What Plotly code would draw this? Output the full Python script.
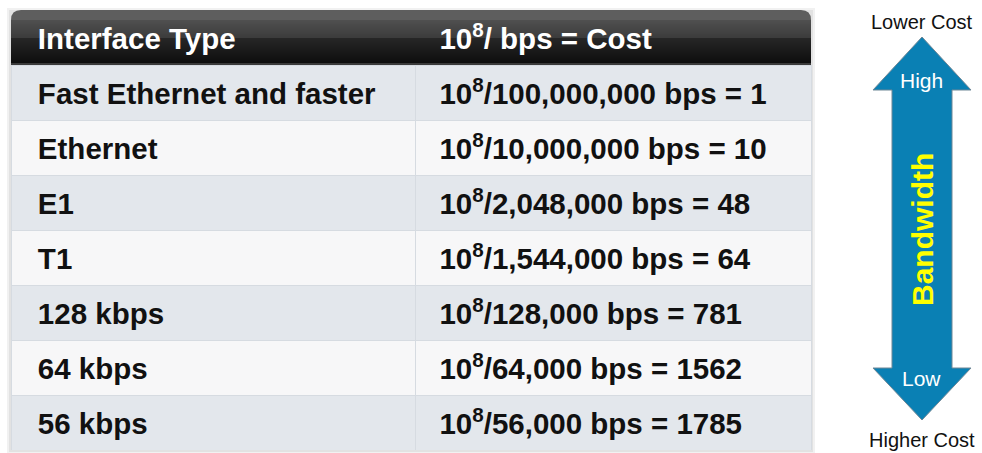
import plotly.graph_objects as go

# ---------------- data ----------------
interface_types = ["Fast Ethernet and faster", "Ethernet", "E1", "T1",
                   "128 kbps", "64 kbps", "56 kbps"]
bandwidth_bps = [100_000_000, 10_000_000, 2_048_000, 1_544_000,
                 128_000, 64_000, 56_000]
cost_values = [1, 10, 48, 64, 781, 1562, 1785]
header_labels = ["Interface Type", "10<sup>8</sup>/ bps = Cost"]
arrow_top_label = "Lower Cost"
arrow_bottom_label = "Higher Cost"
arrow_high_label = "High"
arrow_low_label = "Low"
arrow_axis_label = "Bandwidth"

# ---------------- geometry / style ----------------
W, H = 982, 453
TX0, TX1 = 11, 811
TY0, TY1 = 10, 450
COL_SPLIT = 415
HEADER_H = 55
ROW_H = 55
FONT = "Liberation Sans, Arial, sans-serif"
FS = 29.5
PAD_L = "\u00a0\u00a0\u200a"
PAD_R = "\u00a0\u00a0"
SUP_BAL = "<sup>\u00a0</sup>"   # keeps the left column on the same baseline as the right

left_col = [f"<b>{PAD_L}{t}{SUP_BAL}</b>" for t in interface_types]
right_col = [f"<b>{PAD_R}10<sup>8</sup>/{b:,} bps = {c}</b>"
             for b, c in zip(bandwidth_bps, cost_values)]
header_vals = [f"<b>{PAD_L}{header_labels[0]}{SUP_BAL}</b>", f"<b>{PAD_R}{header_labels[1]}</b>"]
row_fills = ["#e3e7ec" if i % 2 == 0 else "#f7f7f8" for i in range(len(interface_types))]

fig = go.Figure()

# arrow (cartesian trace in pixel-like axes)
ax_cx = 922
arrow_x = [ax_cx, 971, 952, 952, 971, ax_cx, 873, 892, 892, 873, ax_cx]
arrow_y = [37, 90, 90, 368, 368, 420, 368, 368, 90, 90, 37]
fig.add_trace(go.Scatter(x=arrow_x, y=arrow_y, mode="lines", fill="toself",
                         fillcolor="#0a80b4", line=dict(color="#6f8796", width=1),
                         hoverinfo="skip", showlegend=False))

fig.add_trace(go.Table(
    domain=dict(x=[TX0 / W, TX1 / W], y=[1 - TY1 / H, 1 - TY0 / H]),
    columnwidth=[COL_SPLIT - TX0, TX1 - COL_SPLIT],
    header=dict(values=header_vals, fill_color="rgba(0,0,0,0)",
                line=dict(color="rgba(0,0,0,0)", width=0), height=HEADER_H,
                align="left", font=dict(family=FONT, size=FS, color="white")),
    cells=dict(values=[left_col, right_col], fill_color=[row_fills, row_fills],
               line=dict(color="#d6dbe1", width=1), height=ROW_H, align="left",
               font=dict(family=FONT, size=FS, color="#111111")),
))

shapes = []
# soft shadow around table
for off, col in [(4, "#f1f1f1"), (2, "#e2e2e2")]:
    shapes.append(dict(type="rect", xref="x", yref="y", x0=TX0 - off, x1=TX1 + off,
                       y0=TY0 - off + 2, y1=TY1 + off, line=dict(width=0),
                       fillcolor=col, layer="below"))

# header with rounded top and vertical gradient (banded)
r = 10
hy0, hy1 = TY0, TY0 + HEADER_H
def lerp_col(c1, c2, t):
    a = [int(c1[i:i + 2], 16) for i in (1, 3, 5)]
    b = [int(c2[i:i + 2], 16) for i in (1, 3, 5)]
    return "#" + "".join(f"{round(a[k] + (b[k] - a[k]) * t):02x}" for k in range(3))

shapes.append(dict(type="path", xref="x", yref="y",
                   path=f"M {TX0},{hy0 + r} Q {TX0},{hy0} {TX0 + r},{hy0} L {TX1 - r},{hy0} "
                        f"Q {TX1},{hy0} {TX1},{hy0 + r} L {TX1},{hy1} L {TX0},{hy1} Z",
                   fillcolor="#5e5e5e", line=dict(width=0), layer="below"))
mid = hy0 + 28
for y in range(hy0 + r, hy1):
    if y < mid:
        c = lerp_col("#5a5a5a", "#3b3b3b", (y - hy0) / (mid - hy0))
    elif y < hy1 - 2:
        c = lerp_col("#262626", "#0d0d0d", (y - mid) / (hy1 - 2 - mid))
    else:
        c = "#3a3a3a"
    shapes.append(dict(type="rect", xref="x", yref="y", x0=TX0, x1=TX1, y0=y, y1=y + 1.05,
                       fillcolor=c, line=dict(width=0), layer="below"))

annotations = [
    dict(x=ax_cx, y=22, text=arrow_top_label, font=dict(family=FONT, size=20, color="#111111")),
    dict(x=ax_cx, y=440, text=arrow_bottom_label, font=dict(family=FONT, size=20, color="#111111")),
    dict(x=ax_cx - 1, y=80, text=arrow_high_label, font=dict(family=FONT, size=21, color="#ffffff")),
    dict(x=ax_cx - 1, y=378, text=arrow_low_label, font=dict(family=FONT, size=21, color="#ffffff")),
    dict(x=ax_cx, y=230, text=f"<b>{arrow_axis_label}</b>", textangle=-90,
         font=dict(family=FONT, size=30, color="#ffff00")),
]
for a in annotations:
    a.update(xref="x", yref="y", showarrow=False, xanchor="center", yanchor="middle")

fig.update_layout(
    width=W, height=H, margin=dict(l=0, r=0, t=0, b=0),
    paper_bgcolor="white", plot_bgcolor="white",
    xaxis=dict(range=[0, W], visible=False, fixedrange=True),
    yaxis=dict(range=[H, 0], visible=False, fixedrange=True),
    shapes=shapes, annotations=annotations, showlegend=False,
)

fig.write_html("out.html", config={"displayModeBar": False},
               post_script="document.body.style.margin='0';document.body.style.overflow='hidden';")
